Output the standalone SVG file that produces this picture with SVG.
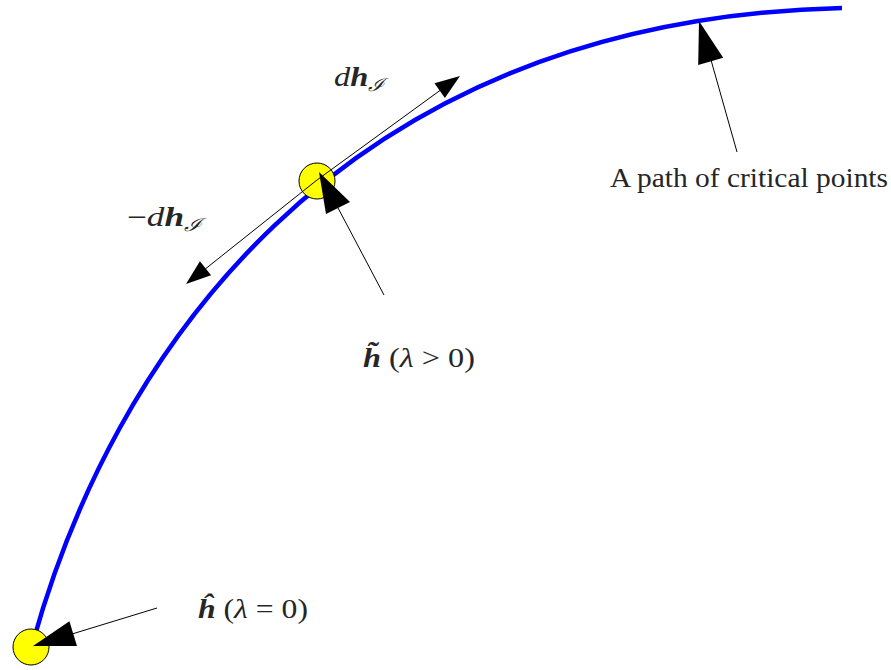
<svg xmlns="http://www.w3.org/2000/svg" width="891" height="670" viewBox="0 0 891 670">
<style>
.curve{fill:none;stroke:#0000ff;stroke-width:4.5}
.pt{fill:#ffff00;stroke:#000;stroke-width:1}
.ln{stroke:#000;stroke-width:1;fill:none}
.hd{fill:#000;stroke:none}
.lbl{font-family:"Liberation Serif","DejaVu Serif",serif;font-size:27px;fill:#262626}
.it{font-style:italic}
.bi{font-style:italic;font-weight:bold}
</style>
<rect width="891" height="670" fill="#fff"/>
<g id="path-curve">
<path class="curve" d="M33,642 C110,365 330,20 842,8"/>
</g>
<g id="node-htilde">
<circle class="pt" cx="317" cy="181" r="18"/>
</g>
<g id="node-hhat">
<circle class="pt" cx="31" cy="647" r="18"/>
</g>
<g id="connectors">
<line class="ln" x1="317" y1="180" x2="442" y2="89"/>
<polygon class="hd" points="460,76 434.5,83.3 444.9,97.9"/>
<line class="ln" x1="317" y1="180" x2="204" y2="270"/>
<polygon class="hd" points="186,284 199.9,261.3 211.1,275.3"/>
<line class="ln" x1="384" y1="295" x2="337" y2="206"/>
<polygon class="hd" points="319,172 350,202 326,214"/>
<line class="ln" x1="737" y1="152" x2="711" y2="60"/>
<polygon class="hd" points="699,21 723.2,57.7 698.2,64.9"/>
<line class="ln" x1="157" y1="608" x2="72" y2="634"/>
<polygon class="hd" points="33,646 77,646.1 69.4,621.3"/>
</g>
<g id="label-dh">
<text class="lbl" x="334" y="86" textLength="50" lengthAdjust="spacingAndGlyphs"><tspan class="it">d</tspan><tspan class="bi">h</tspan><tspan class="it" font-size="18" dy="5">ℐ</tspan></text>
</g>
<g id="label-minus-dh">
<text class="lbl" x="127" y="226" textLength="74" lengthAdjust="spacingAndGlyphs">−<tspan class="it">d</tspan><tspan class="bi">h</tspan><tspan class="it" font-size="18" dy="5">ℐ</tspan></text>
</g>
<g id="label-htilde">
<text class="lbl" x="363" y="367" textLength="112" lengthAdjust="spacingAndGlyphs"><tspan class="bi">h&#x303;</tspan> (<tspan class="it">λ</tspan> &gt; 0)</text>
</g>
<g id="label-hhat">
<text class="lbl" x="198" y="618" textLength="110" lengthAdjust="spacingAndGlyphs"><tspan class="bi">h&#x302;</tspan> (<tspan class="it">λ</tspan> = 0)</text>
</g>
<g id="label-path">
<text class="lbl" x="610" y="187" textLength="278" lengthAdjust="spacingAndGlyphs">A path of critical points</text>
</g>
</svg>
